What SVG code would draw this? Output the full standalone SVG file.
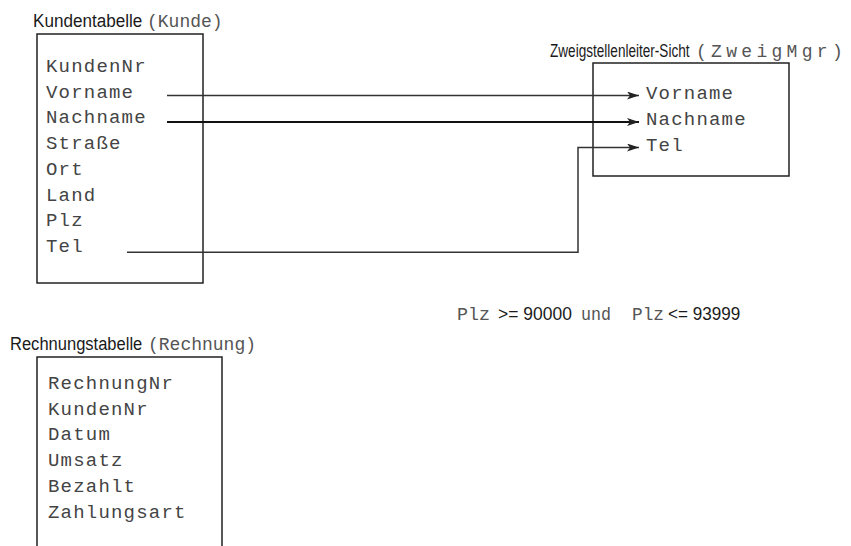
<svg xmlns="http://www.w3.org/2000/svg" width="851" height="546" viewBox="0 0 851 546">
<style>
.lbl{font-family:"Liberation Sans",Arial,sans-serif;font-size:19px;fill:#1a1a1a}
.mono{font-family:"Liberation Mono","DejaVu Sans Mono",monospace;font-size:19px;fill:#444;letter-spacing:1.2px}
.lm{font-family:"Liberation Mono","DejaVu Sans Mono",monospace;font-size:18px;fill:#555}
.box{fill:none;stroke:#222;stroke-width:1.5}
.ln{fill:none;stroke:#333;stroke-width:1.5}
.thick{fill:none;stroke:#111;stroke-width:2.2}
</style>
<defs>
<marker id="ah" markerWidth="12" markerHeight="8" refX="12" refY="4" orient="auto" markerUnits="userSpaceOnUse">
<path d="M0,0 L12,4 L0,8 L3,4 Z" fill="#222"/>
</marker>
</defs>
<rect width="851" height="546" fill="#fff"/>

<g id="kunde">
<text class="lbl" transform="translate(33,27) scale(0.9,1)">Kundentabelle</text>
<text class="lm" x="147" y="27">(Kunde)</text>
<rect class="box" x="37" y="34" width="166" height="249"/>
<text class="mono" x="46" y="72">KundenNr</text>
<text class="mono" x="46" y="97.7">Vorname</text>
<text class="mono" x="46" y="123.4">Nachname</text>
<text class="mono" x="46" y="149">Straße</text>
<text class="mono" x="46" y="174.8">Ort</text>
<text class="mono" x="46" y="200.5">Land</text>
<text class="mono" x="46" y="226.2">Plz</text>
<text class="mono" x="46" y="252">Tel</text>
</g>

<g id="zweigmgr">
<text class="lbl" transform="translate(550,57) scale(0.715,1)">Zweigstellenleiter-Sicht</text>
<text class="lm" x="696" y="57" style="letter-spacing:4.3px">(ZweigMgr)</text>
<rect class="box" x="593" y="63" width="196" height="113"/>
<text class="mono" x="646" y="99.3">Vorname</text>
<text class="mono" x="646" y="125">Nachname</text>
<text class="mono" x="646" y="150.7">Tel</text>
</g>

<g id="bedingung">
<text class="lm" x="457" y="320" textLength="33" lengthAdjust="spacingAndGlyphs">Plz</text>
<text class="lbl" transform="translate(498,320) scale(0.92,1)">&gt;= 90000</text>
<text class="lm" x="581" y="320" textLength="30" lengthAdjust="spacingAndGlyphs">und</text>
<text class="lm" x="632" y="320" textLength="32" lengthAdjust="spacingAndGlyphs">Plz</text>
<text class="lbl" transform="translate(668,320) scale(0.9,1)">&lt;= 93999</text>
</g>

<g id="rechnung">
<text class="lbl" transform="translate(10,350) scale(0.87,1)">Rechnungstabelle</text>
<text class="lm" x="148" y="350">(Rechnung)</text>
<path class="box" d="M37,546 V357 H222 V546"/>
<text class="mono" x="48" y="389">RechnungNr</text>
<text class="mono" x="48" y="414.7">KundenNr</text>
<text class="mono" x="48" y="440.4">Datum</text>
<text class="mono" x="48" y="466">Umsatz</text>
<text class="mono" x="48" y="491.8">Bezahlt</text>
<text class="mono" x="48" y="517.5">Zahlungsart</text>
</g>

<g id="connectors">
<path class="ln" d="M167,95.5 H639" marker-end="url(#ah)"/>
<path class="thick" d="M167,122 H639" marker-end="url(#ah)"/>
<path class="ln" d="M127,252.3 H578 V147.5 H639" marker-end="url(#ah)"/>
</g>
</svg>
